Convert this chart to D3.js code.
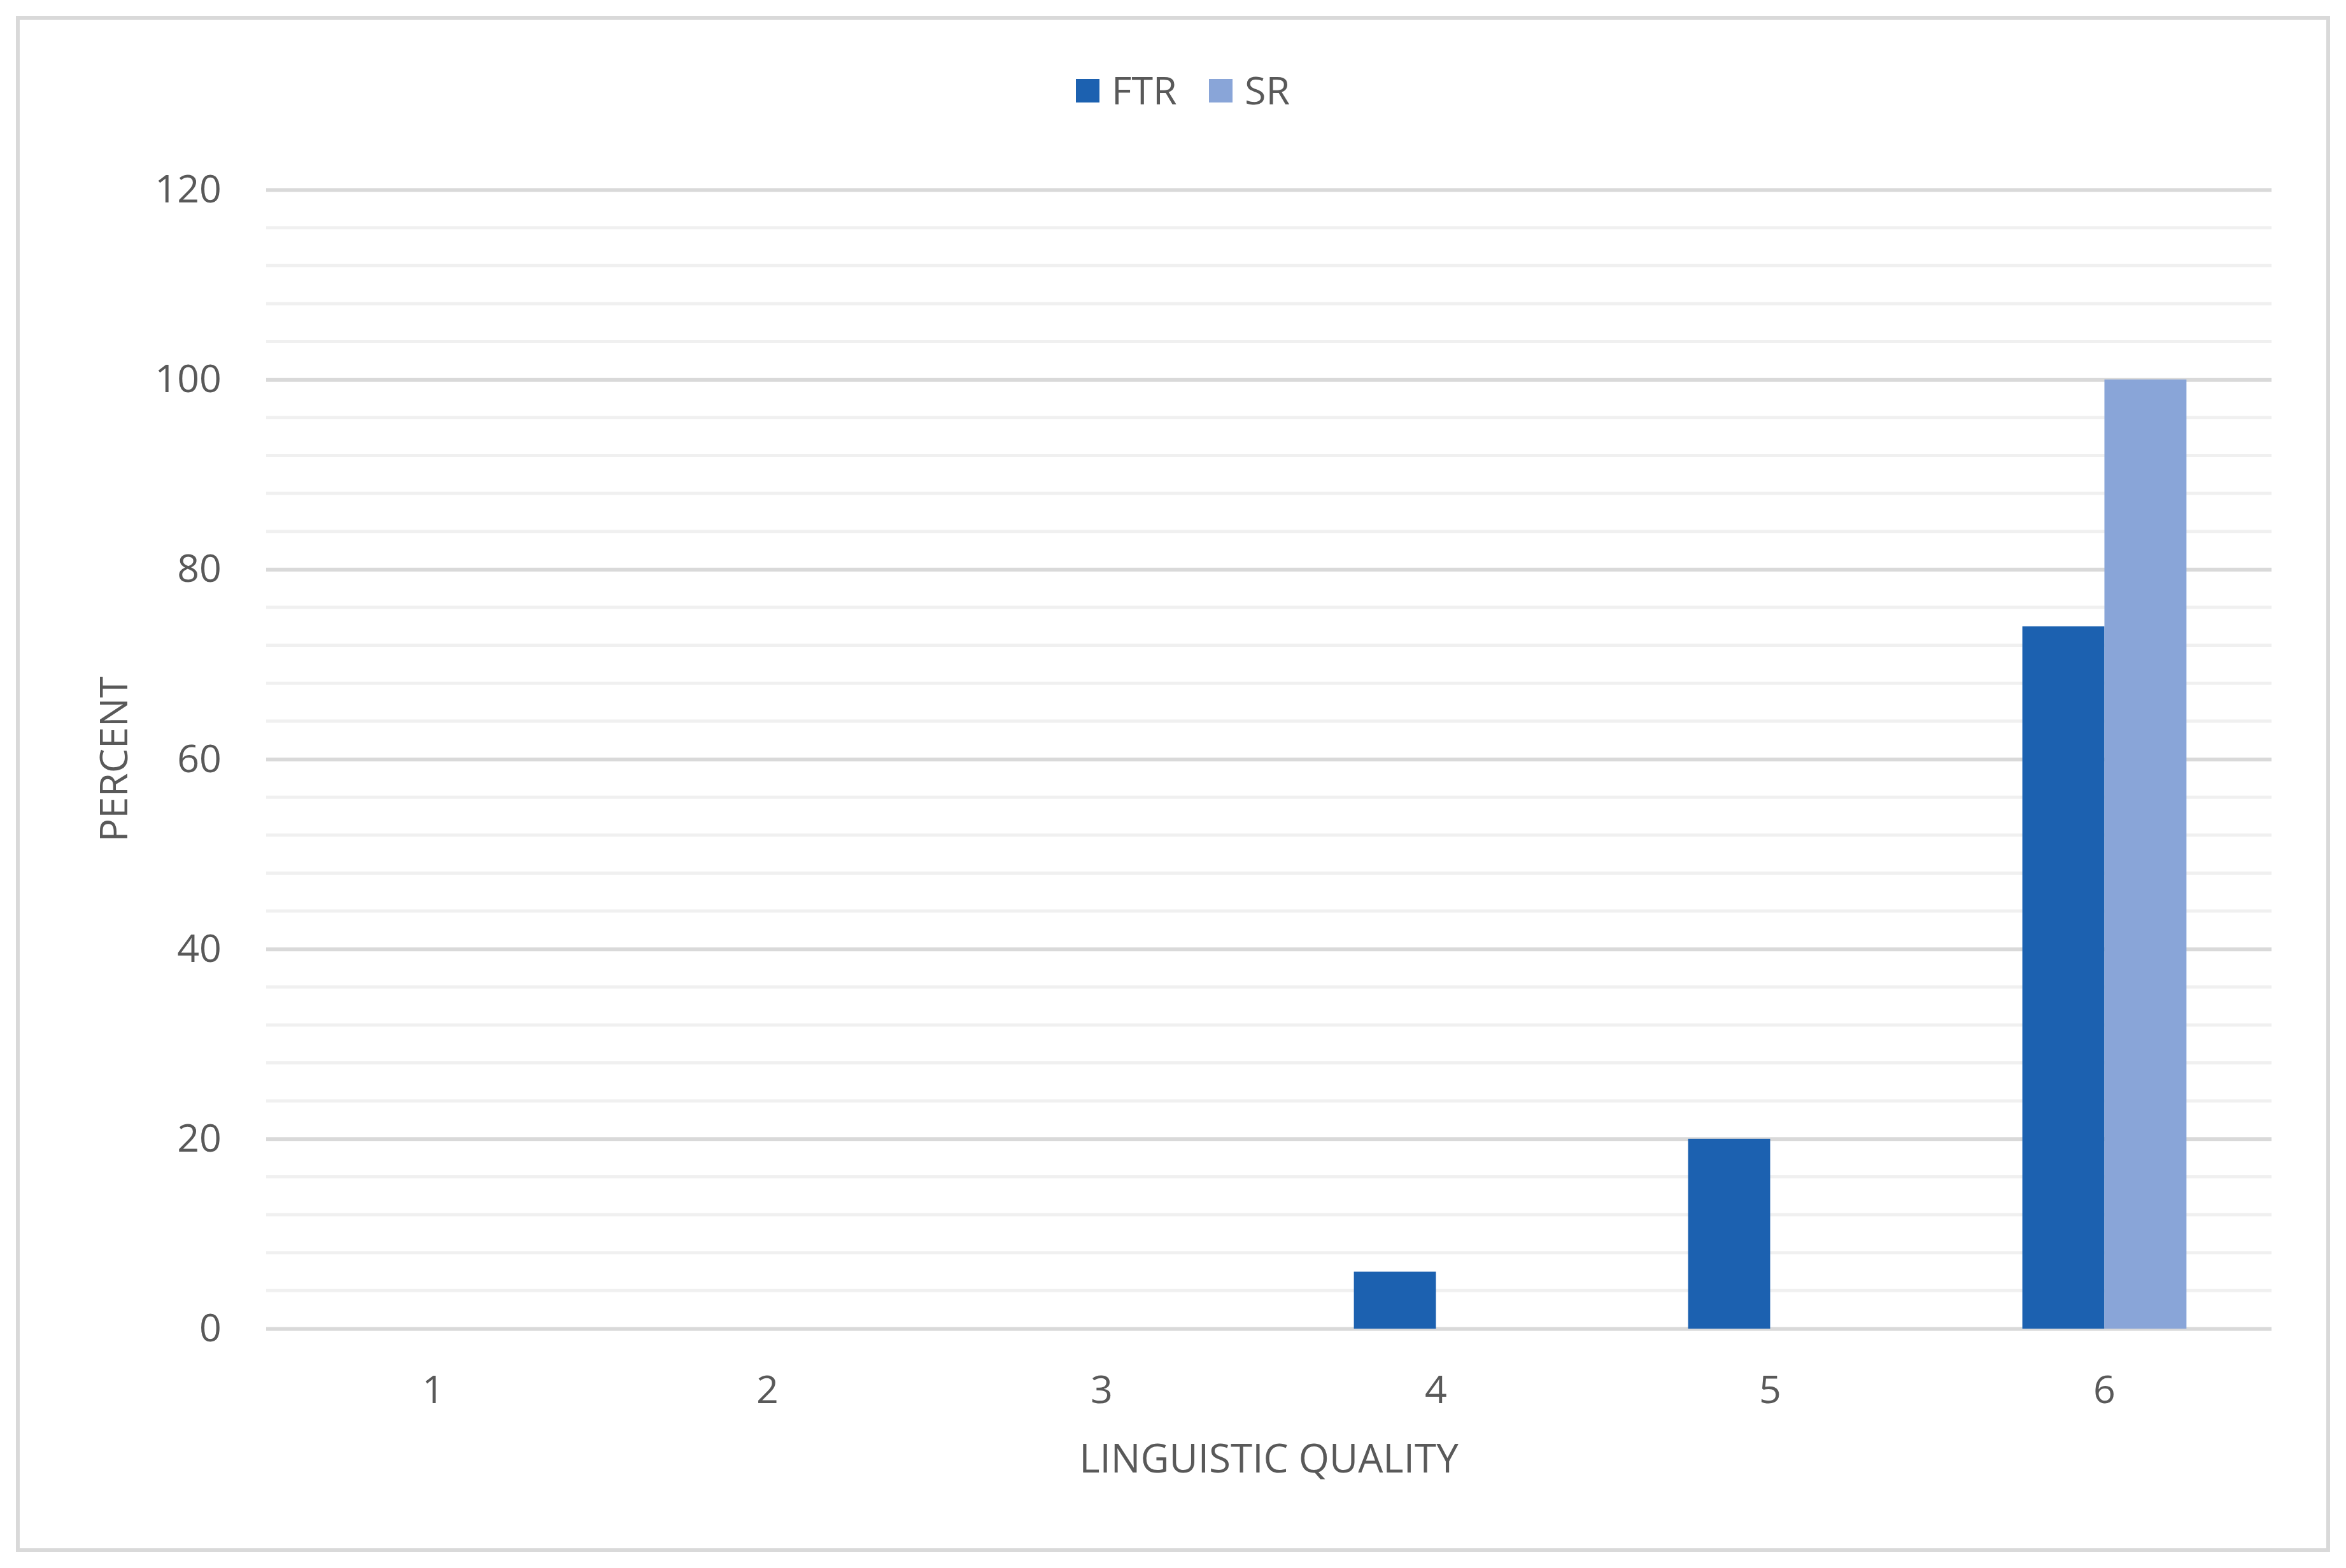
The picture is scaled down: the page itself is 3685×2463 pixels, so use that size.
<!DOCTYPE html>
<html>
<head>
<meta charset="utf-8">
<script src="https://cdn.jsdelivr.net/npm/d3@7"></script>
<style>
  body { margin: 0; background: #fff; }
  text { font-family: "Open Sans", "Noto Sans", sans-serif; fill: #595959; }
</style>
</head>
<body>
<script>
// chart data
var categories = ["1", "2", "3", "4", "5", "6"];
var seriesNames = ["FTR", "SR"];
var ftrValues = [0, 0, 0, 6, 20, 74];
var srValues = [0, 0, 0, 0, 0, 100];
var yTickValues = [0, 20, 40, 60, 80, 100, 120];
var colors = ["#1c61b0", "#89a5d8"];

var W = 3685, H = 2463;
var margin = {top: 298, right: 117, bottom: 376, left: 418},
    width = W - margin.left - margin.right,
    height = H - margin.top - margin.bottom;

var svg = d3.select("body").append("svg")
    .attr("width", W)
    .attr("height", H);

svg.append("rect")
    .attr("width", W).attr("height", H)
    .attr("fill", "#fff");

// chart border
svg.append("rect")
    .attr("x", 28).attr("y", 28)
    .attr("width", W - 56).attr("height", H - 56)
    .attr("fill", "none")
    .attr("stroke", "#d9d9d9")
    .attr("stroke-width", 6);

var g = svg.append("g")
    .attr("transform", "translate(" + margin.left + "," + margin.top + ")");

var y = d3.scaleLinear().domain([0, 120]).range([height, 0]);

var x0 = d3.scaleBand()
    .domain(categories)
    .range([0, width])
    .paddingInner(0.509)
    .paddingOuter(0.2545);

var x1 = d3.scaleBand()
    .domain(seriesNames)
    .range([0, x0.bandwidth()]);

// minor gridlines
var minor = d3.range(0, 121, 4).filter(function(v) { return v % 20 !== 0; });
g.selectAll(".minor")
    .data(minor)
  .enter().append("line")
    .attr("x1", 0).attr("x2", width)
    .attr("y1", function(d) { return y(d); })
    .attr("y2", function(d) { return y(d); })
    .attr("stroke", "#f0f0f0")
    .attr("stroke-width", 5);

// major gridlines
g.append("g")
    .call(d3.axisLeft(y).tickValues(yTickValues).tickSize(-width).tickFormat(""))
    .call(function(s) { s.select(".domain").remove(); })
    .selectAll("line")
    .attr("stroke", "#d9d9d9")
    .attr("stroke-width", 6);

// y labels
var yAxis = g.append("g")
    .call(d3.axisLeft(y).tickValues(yTickValues).tickSize(0).tickPadding(70));
yAxis.select(".domain").remove();
yAxis.selectAll("text")
    .attr("font-size", 61)
    .attr("font-family", "Open Sans")
    .attr("fill", "#595959");

// x labels
var xAxis = g.append("g")
    .attr("transform", "translate(0," + height + ")")
    .call(d3.axisBottom(x0).tickSize(0).tickPadding(74));
xAxis.select(".domain").remove();
xAxis.selectAll("text")
    .attr("font-size", 61)
    .attr("font-family", "Open Sans")
    .attr("fill", "#595959");

// bars
var rows = categories.map(function(c, i) {
  return {cat: c, vals: [ftrValues[i], srValues[i]]};
});

g.selectAll(".cat")
    .data(rows)
  .enter().append("g")
    .attr("transform", function(d) { return "translate(" + x0(d.cat) + ",0)"; })
  .selectAll("rect")
    .data(function(d) { return d.vals.map(function(v, j) { return {name: seriesNames[j], value: v, j: j}; }); })
  .enter().append("rect")
    .attr("x", function(d) { return x1(d.name); })
    .attr("width", x1.bandwidth())
    .attr("y", function(d) { return y(d.value); })
    .attr("height", function(d) { return height - y(d.value); })
    .attr("fill", function(d) { return colors[d.j]; });

// axis titles
svg.append("text")
    .attr("x", margin.left + width / 2)
    .attr("y", 2313)
    .attr("text-anchor", "middle")
    .attr("font-size", 62)
    .text("LINGUISTIC QUALITY");

svg.append("text")
    .attr("transform", "translate(200," + (margin.top + height / 2) + ") rotate(-90)")
    .attr("text-anchor", "middle")
    .attr("font-size", 61)
    .text("PERCENT");

// legend
var legendX = [1690, 1899];
var legend = svg.selectAll(".legend")
    .data(seriesNames)
  .enter().append("g")
    .attr("transform", function(d, i) { return "translate(" + legendX[i] + ",124)"; });

legend.append("rect")
    .attr("width", 37).attr("height", 37)
    .attr("fill", function(d, i) { return colors[i]; });

legend.append("text")
    .attr("x", 56)
    .attr("y", 40)
    .attr("font-size", 61)
    .text(function(d) { return d; });
</script>
</body>
</html>
